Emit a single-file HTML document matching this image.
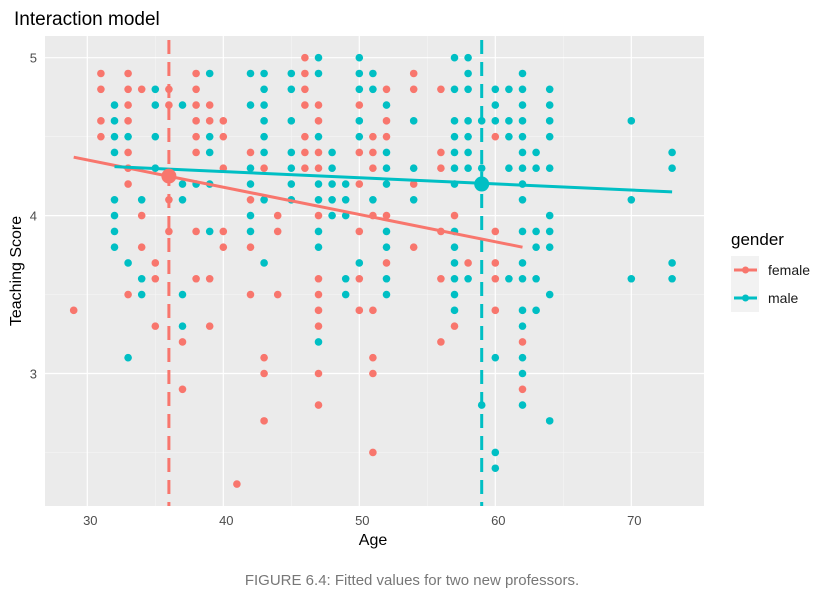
<!DOCTYPE html>
<html><head><meta charset="utf-8"><style>
body{margin:0;background:#fff;font-family:"Liberation Sans",sans-serif}
svg text{font-family:"Liberation Sans",sans-serif}
</style></head><body>
<svg id="chart" width="818" height="596">
<text x="14" y="25" font-size="19" fill="#000">Interaction model</text>
<rect x="45" y="36" width="659" height="470" fill="#EBEBEB"/>
<g id="grid"></g><g id="marks"></g><g id="axes"></g>
<text x="373" y="545" font-size="16" text-anchor="middle">Age</text>
<text transform="translate(21,271) rotate(-90)" font-size="16" text-anchor="middle">Teaching Score</text>
<g>
<text x="731" y="245" font-size="17">gender</text>
<rect x="731" y="256" width="28" height="56" fill="#F2F2F2"/>
<g><line x1="734" y1="270" x2="757" y2="270" stroke="#F8766D" stroke-width="3"/><circle cx="745.5" cy="270" r="3.5" fill="#F8766D"/><text x="768" y="275" font-size="14" fill="#1a1a1a">female</text></g>
<g><line x1="734" y1="298" x2="757" y2="298" stroke="#00BFC4" stroke-width="3"/><circle cx="745.5" cy="298" r="3.5" fill="#00BFC4"/><text x="768" y="303" font-size="14" fill="#1a1a1a">male</text></g>
</g>
<text x="412" y="585" font-size="15" fill="#777" text-anchor="middle">FIGURE 6.4: Fitted values for two new professors.</text>
</svg>
<script>
const xTicks=[30,40,50,60,70];
const yTicks=[3,4,5];
const femaleAges=[31,33,38,31,33,34,36,38,33,36,38,39,31,33,38,39,40,31,38,40,33,38,42,33,40,43,33,36,42,34,36,38,40,34,40,42,35,35,38,39,33,42,29,35,39,37,43,43,37,43,41,
46,46,46,46,47,52,47,50,52,54,46,51,52,54,46,47,50,51,46,47,51,50,54,44,47,51,52,44,50,54,52,47,50,44,47,47,50,51,47,51,47,51,47,51,
56,56,60,56,57,56,60,58,60,56,60,60,57,56,62,62];
const femaleScores=[4.9,4.9,4.9,4.8,4.8,4.8,4.8,4.8,4.7,4.7,4.7,4.7,4.6,4.6,4.6,4.6,4.6,4.5,4.5,4.5,4.4,4.4,4.4,4.3,4.3,4.3,4.2,4.1,4.1,4.0,3.9,3.9,3.9,3.8,3.8,3.8,3.7,3.6,3.6,3.6,3.5,3.5,3.4,3.3,3.3,3.2,3.1,3.0,2.9,2.7,2.3,
5.0,4.9,4.8,4.7,4.7,4.8,4.6,4.7,4.6,4.9,4.5,4.5,4.5,4.8,4.4,4.4,4.4,4.4,4.3,4.3,4.3,4.2,4.2,4.0,4.0,4.0,4.0,3.9,3.9,3.8,3.7,3.6,3.6,3.5,3.5,3.4,3.4,3.4,3.3,3.1,3.0,3.0,2.8,2.5,
4.8,4.4,4.5,4.3,4.0,3.9,3.9,3.7,3.7,3.6,3.6,3.4,3.3,3.2,3.2,2.9];
const maleAges=[39,42,43,35,43,32,35,37,42,43,32,43,32,33,35,39,43,32,39,43,35,42,37,38,39,42,32,34,37,43,32,42,32,39,42,32,33,43,34,34,37,37,33,
47,50,45,47,50,51,45,50,51,52,45,50,54,47,50,45,48,52,45,48,52,54,45,47,48,49,52,45,47,48,49,51,54,48,49,47,52,47,52,50,49,52,49,52,47,
57,58,58,62,57,58,60,61,62,64,60,62,64,57,58,59,60,61,62,64,57,58,61,62,64,57,58,62,63,57,58,59,61,62,63,64,57,62,62,64,57,62,63,64,57,63,64,57,62,57,58,61,62,63,57,64,57,62,63,62,60,62,62,59,62,64,60,60,
70,70,70,73,73,73,73];
const maleScores=[4.9,4.9,4.9,4.8,4.8,4.7,4.7,4.7,4.7,4.7,4.6,4.6,4.5,4.5,4.5,4.5,4.5,4.4,4.4,4.4,4.3,4.3,4.2,4.2,4.2,4.2,4.1,4.1,4.1,4.1,4.0,4.0,3.9,3.9,3.9,3.8,3.7,3.7,3.6,3.5,3.5,3.3,3.1,
5.0,5.0,4.9,4.9,4.9,4.9,4.8,4.8,4.8,4.7,4.6,4.6,4.6,4.5,4.5,4.4,4.4,4.4,4.3,4.3,4.3,4.3,4.2,4.2,4.2,4.2,4.2,4.1,4.1,4.1,4.1,4.1,4.1,4.0,4.0,3.9,3.9,3.8,3.8,3.7,3.6,3.6,3.5,3.5,3.2,
5.0,5.0,4.9,4.9,4.8,4.8,4.8,4.8,4.8,4.8,4.7,4.7,4.7,4.6,4.6,4.6,4.6,4.6,4.6,4.6,4.5,4.5,4.5,4.5,4.5,4.4,4.4,4.4,4.4,4.3,4.3,4.3,4.3,4.3,4.3,4.3,4.2,4.2,4.1,4.0,3.9,3.9,3.9,3.9,3.8,3.8,3.8,3.7,3.7,3.6,3.6,3.6,3.6,3.6,3.5,3.5,3.4,3.4,3.4,3.3,3.1,3.1,3.0,2.8,2.8,2.7,2.5,2.4,
4.6,4.1,3.6,4.4,4.3,3.7,3.6];
const femaleFit=[[29,4.37],[62,3.80]];
const maleFit=[[32,4.31],[73,4.15]];
const femaleNew=[36,4.25];
const maleNew=[59,4.20];
const X=a=>87.3+(a-30)*13.6;
const Y=s=>57.7+(5-s)*157.9;
const NS="http://www.w3.org/2000/svg";
function mk(t,at,p){const e=document.createElementNS(NS,t);for(const k in at)e.setAttribute(k,at[k]);p.appendChild(e);return e;}
const grid=document.getElementById('grid'),marks=document.getElementById('marks'),axes=document.getElementById('axes');
[35,45,55,65].forEach(v=>{const l=mk('line',{x1:X(v),x2:X(v),y1:36,y2:506,stroke:'#F5F5F5','stroke-width':0.6},grid);});
[2.5,3.5,4.5].forEach(v=>{const l=mk('line',{x1:45,x2:704,y1:Y(v),y2:Y(v),stroke:'#F5F5F5','stroke-width':0.6},grid);});
xTicks.forEach(v=>{const l=mk('line',{x1:X(v),x2:X(v),y1:36,y2:506,stroke:'#fff','stroke-width':1.2},grid);
const t=mk('text',{x:X(v)+3,y:525,'font-size':13,fill:'#4D4D4D','text-anchor':'middle'},axes);t.textContent=v;});
yTicks.forEach(v=>{const l=mk('line',{x1:45,x2:704,y1:Y(v),y2:Y(v),stroke:'#fff','stroke-width':1.2},grid);
const t=mk('text',{x:37,y:Y(v)+5,'font-size':13,fill:'#4D4D4D','text-anchor':'end'},axes);t.textContent=v;});
function pts(ages,sc,col,name){ages.forEach((a,i)=>{const c=mk('circle',{cx:X(a),cy:Y(sc[i]),r:3.8,fill:col},marks);});}
pts(femaleAges,femaleScores,'#F8766D','female-point');
pts(maleAges,maleScores,'#00BFC4','male-point');
function vline(a,col,name){const l=mk('line',{x1:X(a),x2:X(a),y1:36,y2:506,stroke:col,'stroke-width':3,'stroke-dasharray':'14 8','stroke-dashoffset':'-4'},marks);}
vline(femaleNew[0],'#F8766D','female-new-age-line');
vline(maleNew[0],'#00BFC4','male-new-age-line');
function fit(f,col,name){const l=mk('line',{x1:X(f[0][0]),y1:Y(f[0][1]),x2:X(f[1][0]),y2:Y(f[1][1]),stroke:col,'stroke-width':3},marks);}
fit(femaleFit,'#F8766D','female-fit-line');
fit(maleFit,'#00BFC4','male-fit-line');
const c1=mk('circle',{cx:X(femaleNew[0]),cy:Y(femaleNew[1]),r:7.5,fill:'#F8766D'},marks);


const c2=mk('circle',{cx:X(maleNew[0]),cy:Y(maleNew[1]),r:7.5,fill:'#00BFC4'},marks);


</script>
</body></html>
